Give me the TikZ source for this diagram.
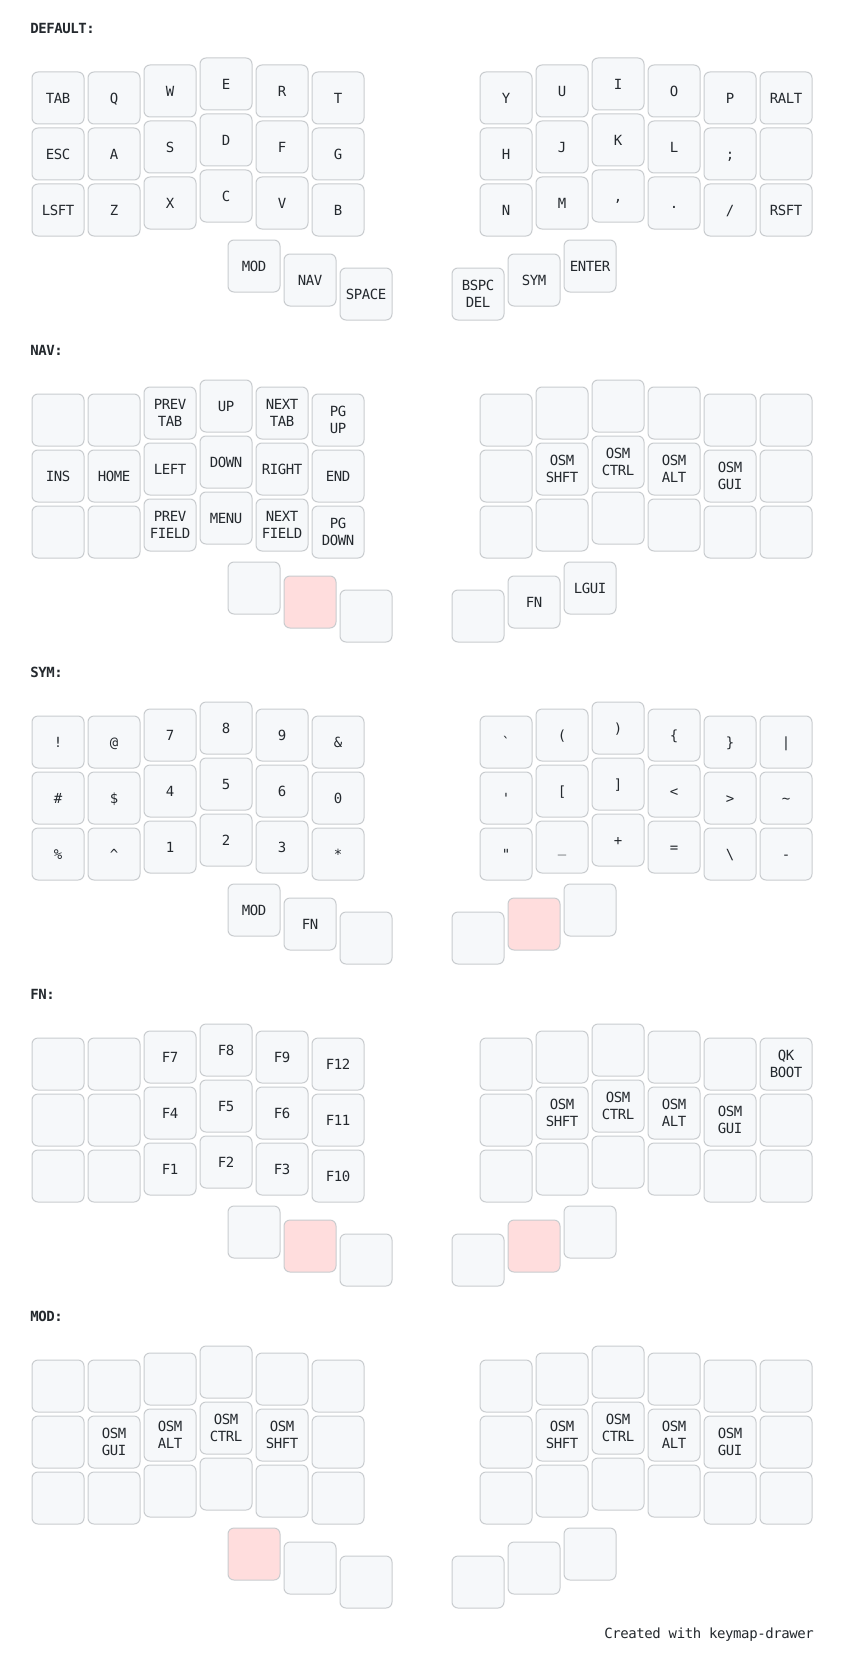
\documentclass[tikz,border=0pt]{standalone}
\usepackage{fontspec}
\setmonofont[LetterSpace=-3]{DejaVu Sans Mono}
\definecolor{cInk}{HTML}{24292E}
\definecolor{cKey}{HTML}{F6F8FA}
\definecolor{cHeld}{HTML}{FFDDDD}
\definecolor{cLine}{HTML}{C9CCCF}
% two-line key label, centred on the key
\newcommand\keytwo[2]{\makebox[0pt]{\raisebox{6.3pt}{#1}}\makebox[0pt]{\raisebox{-6.3pt}{#2}}}
% column stagger of the two halves
\def\stagL{{0,0,-7,-14,-7,0}}
\def\stagR{{0,-7,-14,-7,0,0}}
\begin{document}
\begin{tikzpicture}[x=0.75pt,y=-0.75pt,
      key/.style={draw=cLine,fill=cKey,line width=0.75pt,rounded corners=4.5pt,
                  minimum size=39pt,inner sep=0pt,text height=7.66pt,text depth=0pt,
                  text=cInk,font=\ttfamily\fontsize{10.5}{12.6}\selectfont},
      held/.style={key,fill=cHeld},
      lab/.style={anchor=base west,inner sep=0pt,text=cInk,
                  font=\ttfamily\bfseries\fontsize{10.5}{12.6}\selectfont},
      foot/.style={anchor=base east,inner sep=0pt,text=cInk,
                  font=\ttfamily\fontsize{10.5}{12.6}\selectfont}]
    \fill[white] (0,0) rectangle (844,1666);
    \useasboundingbox (0,0) rectangle (844,1666);
    % default layer
    \node[lab] (defName) at (30,33.3) {DEFAULT:};
    \foreach \row [count=\r from 0] in {{TAB,Q,W,E,R,T},{ESC,A,S,D,F,G},{LSFT,Z,X,C,V,B}}
      \foreach \lbl [count=\c from 0] in \row
        \node[key] (defL\r\c) at ({58+56*\c},{98+56*\r+\stagL[\c]}) {\lbl};
    \foreach \row [count=\r from 0] in {{Y,U,I,O,P,RALT},{H,J,K,L,;,{}},{N,M,{,},.,{/},RSFT}}
      \foreach \lbl [count=\c from 0] in \row
        \node[key] (defR\r\c) at ({506+56*\c},{98+56*\r+\stagR[\c]}) {\lbl};
    \node[key] (defT0) at (254,266) {MOD};
    \node[key] (defT1) at (310,280) {NAV};
    \node[key] (defT2) at (366,294) {SPACE};
    \node[key] (defT3) at (478,294) {\keytwo{BSPC}{DEL}};
    \node[key] (defT4) at (534,280) {SYM};
    \node[key] (defT5) at (590,266) {ENTER};
    % nav layer
    \begin{scope}[shift={(0,322)}]
    \node[lab] (navName) at (30,33.3) {NAV:};
    \foreach \row [count=\r from 0] in {{{},{},\keytwo{PREV}{TAB},UP,\keytwo{NEXT}{TAB},\keytwo{PG}{UP}},
        {INS,HOME,LEFT,DOWN,RIGHT,END},
        {{},{},\keytwo{PREV}{FIELD},MENU,\keytwo{NEXT}{FIELD},\keytwo{PG}{DOWN}}}
      \foreach \lbl [count=\c from 0] in \row
        \node[key] (navL\r\c) at ({58+56*\c},{98+56*\r+\stagL[\c]}) {\lbl};
    \foreach \row [count=\r from 0] in {{{},{},{},{},{},{}},
        {{},\keytwo{OSM}{SHFT},\keytwo{OSM}{CTRL},\keytwo{OSM}{ALT},\keytwo{OSM}{GUI},{}},
        {{},{},{},{},{},{}}}
      \foreach \lbl [count=\c from 0] in \row
        \node[key] (navR\r\c) at ({506+56*\c},{98+56*\r+\stagR[\c]}) {\lbl};
    \node[key]  (navT0) at (254,266) {};
    \node[held] (navT1) at (310,280) {};
    \node[key]  (navT2) at (366,294) {};
    \node[key]  (navT3) at (478,294) {};
    \node[key]  (navT4) at (534,280) {FN};
    \node[key]  (navT5) at (590,266) {LGUI};
    \end{scope}
    % sym layer
    \begin{scope}[shift={(0,644)}]
    \node[lab] (symName) at (30,33.3) {SYM:};
    \foreach \row [count=\r from 0] in {{!,@,7,8,9,\&},{\#,\$,4,5,6,0},{\%,\textasciicircum,1,2,3,*}}
      \foreach \lbl [count=\c from 0] in \row
        \node[key] (symL\r\c) at ({58+56*\c},{98+56*\r+\stagL[\c]}) {\lbl};
    \foreach \row [count=\r from 0] in {{`,{(},{)},\{,\},|},{',{[},{]},<,>,\textasciitilde},
        {",\_,+,=,\textbackslash,-}}
      \foreach \lbl [count=\c from 0] in \row
        \node[key] (symR\r\c) at ({506+56*\c},{98+56*\r+\stagR[\c]}) {\lbl};
    \node[key]  (symT0) at (254,266) {MOD};
    \node[key]  (symT1) at (310,280) {FN};
    \node[key]  (symT2) at (366,294) {};
    \node[key]  (symT3) at (478,294) {};
    \node[held] (symT4) at (534,280) {};
    \node[key]  (symT5) at (590,266) {};
    \end{scope}
    % fn layer
    \begin{scope}[shift={(0,966)}]
    \node[lab] (fnName) at (30,33.3) {FN:};
    \foreach \row [count=\r from 0] in {{{},{},F7,F8,F9,F12},{{},{},F4,F5,F6,F11},{{},{},F1,F2,F3,F10}}
      \foreach \lbl [count=\c from 0] in \row
        \node[key] (fnL\r\c) at ({58+56*\c},{98+56*\r+\stagL[\c]}) {\lbl};
    \foreach \row [count=\r from 0] in {{{},{},{},{},{},\keytwo{QK}{BOOT}},
        {{},\keytwo{OSM}{SHFT},\keytwo{OSM}{CTRL},\keytwo{OSM}{ALT},\keytwo{OSM}{GUI},{}},
        {{},{},{},{},{},{}}}
      \foreach \lbl [count=\c from 0] in \row
        \node[key] (fnR\r\c) at ({506+56*\c},{98+56*\r+\stagR[\c]}) {\lbl};
    \node[key]  (fnT0) at (254,266) {};
    \node[held] (fnT1) at (310,280) {};
    \node[key]  (fnT2) at (366,294) {};
    \node[key]  (fnT3) at (478,294) {};
    \node[held] (fnT4) at (534,280) {};
    \node[key]  (fnT5) at (590,266) {};
    \end{scope}
    % mod layer
    \begin{scope}[shift={(0,1288)}]
    \node[lab] (modName) at (30,33.3) {MOD:};
    \foreach \row [count=\r from 0] in {{{},{},{},{},{},{}},
        {{},\keytwo{OSM}{GUI},\keytwo{OSM}{ALT},\keytwo{OSM}{CTRL},\keytwo{OSM}{SHFT},{}},
        {{},{},{},{},{},{}}}
      \foreach \lbl [count=\c from 0] in \row
        \node[key] (modL\r\c) at ({58+56*\c},{98+56*\r+\stagL[\c]}) {\lbl};
    \foreach \row [count=\r from 0] in {{{},{},{},{},{},{}},
        {{},\keytwo{OSM}{SHFT},\keytwo{OSM}{CTRL},\keytwo{OSM}{ALT},\keytwo{OSM}{GUI},{}},
        {{},{},{},{},{},{}}}
      \foreach \lbl [count=\c from 0] in \row
        \node[key] (modR\r\c) at ({506+56*\c},{98+56*\r+\stagR[\c]}) {\lbl};
    \node[held] (modT0) at (254,266) {};
    \node[key]  (modT1) at (310,280) {};
    \node[key]  (modT2) at (366,294) {};
    \node[key]  (modT3) at (478,294) {};
    \node[key]  (modT4) at (534,280) {};
    \node[key]  (modT5) at (590,266) {};
    \end{scope}
    \node[foot] (footer) at (814,1638) {Created with keymap-drawer};
  \end{tikzpicture}
\end{document}
